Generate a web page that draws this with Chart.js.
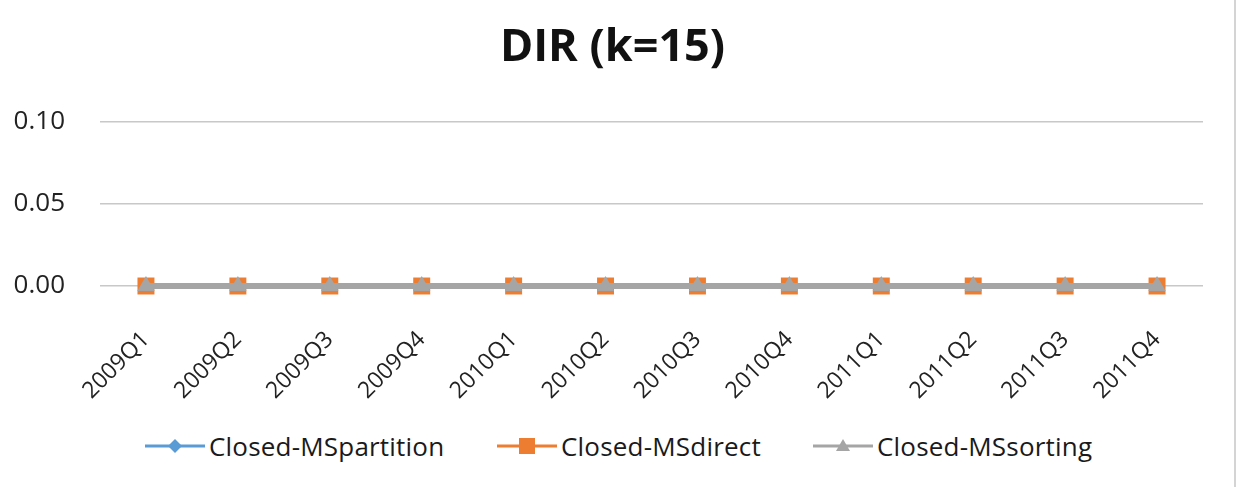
<!DOCTYPE html>
<html>
<head>
<meta charset="utf-8">
<script src="https://cdn.jsdelivr.net/npm/chart.js@4.4.0/dist/chart.umd.min.js"></script>
<style>
  html, body { margin: 0; padding: 0; background: #fff; }
  #wrap { position: relative; width: 1234px; height: 487px; border-right: 2px solid #d4d4d4; background: #fff; }
  #c { position: absolute; left: 0; top: 0; }
  #legend { position: absolute; top: 428px; left: 0; width: 1234px; height: 36px; font-family: "Open Sans", sans-serif; font-size: 26px; letter-spacing: 0.2px; color: #1a1a1a; }
  .item { position: absolute; top: 0; display: flex; align-items: center; height: 36px; white-space: nowrap; }
  .item svg { margin-right: 4px; }
</style>
</head>
<body>
<div id="wrap">
  <canvas id="c" width="1234" height="425"></canvas>
  <div id="legend"></div>
</div>
<script>
const categories = ["2009Q1","2009Q2","2009Q3","2009Q4","2010Q1","2010Q2","2010Q3","2010Q4","2011Q1","2011Q2","2011Q3","2011Q4"];
const msPartition = [0,0,0,0,0,0,0,0,0,0,0,0];
const msDirect    = [0,0,0,0,0,0,0,0,0,0,0,0];
const msSorting   = [0,0,0,0,0,0,0,0,0,0,0,0];
const seriesNames = ["Closed-MSpartition","Closed-MSdirect","Closed-MSsorting"];
const yTicks = [0, 0.05, 0.10];

const FONT = '"Open Sans", sans-serif';
const colors = ["#5b9bd5", "#ed7d31", "#a5a5a5"];
const styles = ["rectRot", "rect", "triangle"];

const ctx = document.getElementById('c').getContext('2d');
const chart = new Chart(ctx, {
  type: 'line',
  data: {
    labels: categories,
    datasets: [
      { label: seriesNames[0], data: msPartition, borderColor: colors[0], backgroundColor: colors[0], borderWidth: 3, pointStyle: styles[0], pointRadius: 7, pointBorderWidth: 0, order: 3, clip: false },
      { label: seriesNames[1], data: msDirect, borderColor: colors[1], backgroundColor: colors[1], borderWidth: 3, pointStyle: styles[1], pointRadius: 12, pointBorderWidth: 0, order: 2, clip: false },
      { label: seriesNames[2], data: msSorting, borderColor: colors[2], backgroundColor: colors[2], borderWidth: 6, pointStyle: styles[2], pointRadius: 10, pointBorderWidth: 0, order: 1, clip: false }
    ]
  },
  options: {
    responsive: false,
    animation: false,
    layout: { padding: { left: 0, right: 9, top: 0, bottom: 0 } },
    plugins: {
      legend: { display: false },
      tooltip: { enabled: false },
      title: {
        display: true,
        text: 'DIR (k=15)',
        color: '#111',
        font: { family: FONT, size: 45, weight: 'bold' },
        padding: { top: 21, bottom: 47 }
      }
    },
    scales: {
      x: {
        offset: true,
        grid: { display: false, drawTicks: false },
        border: { display: false },
        ticks: {
          minRotation: 45, maxRotation: 45, padding: 40,
          color: '#222', font: { family: FONT, size: 23 }
        },
        afterFit: (s) => { s.height = 139; }
      },
      y: {
        min: 0, max: 0.1,
        afterBuildTicks: (s) => { s.ticks = yTicks.map(v => ({ value: v })); },
        grid: { color: '#c8c8c8', lineWidth: 1.5, drawTicks: false },
        border: { display: false },
        ticks: {
          padding: 35, color: '#222', font: { family: FONT, size: 26 },
          callback: (v) => Number(v).toFixed(2)
        },
        afterFit: (s) => { s.width = 100; }
      },
      yRightSpace: {
        position: 'right', min: 0, max: 0.1,
        grid: { drawOnChartArea: false, drawTicks: false },
        border: { display: false },
        ticks: { display: false },
        afterFit: (s) => { s.width = 22; }
      }
    }
  }
});

// HTML legend built from datasets
const legendPos = [145, 497, 813];
const legend = document.getElementById('legend');
chart.data.datasets.forEach((ds, i) => {
  const div = document.createElement('div');
  div.className = 'item';
  div.style.left = legendPos[i] + 'px';
  let marker = '';
  if (styles[i] === 'rectRot') marker = '<polygon points="30,11 37,18 30,25 23,18" fill="' + ds.borderColor + '"/>';
  else if (styles[i] === 'rect') marker = '<rect x="22" y="10" width="16" height="16" fill="' + ds.borderColor + '"/>';
  else marker = '<polygon points="30,11 37,23 23,23" fill="' + ds.borderColor + '"/>';
  div.innerHTML = '<svg width="60" height="36"><line x1="0" y1="18" x2="60" y2="18" stroke="' + ds.borderColor + '" stroke-width="3"/>' + marker + '</svg><span>' + ds.label + '</span>';
  legend.appendChild(div);
});
</script>
</body>
</html>
